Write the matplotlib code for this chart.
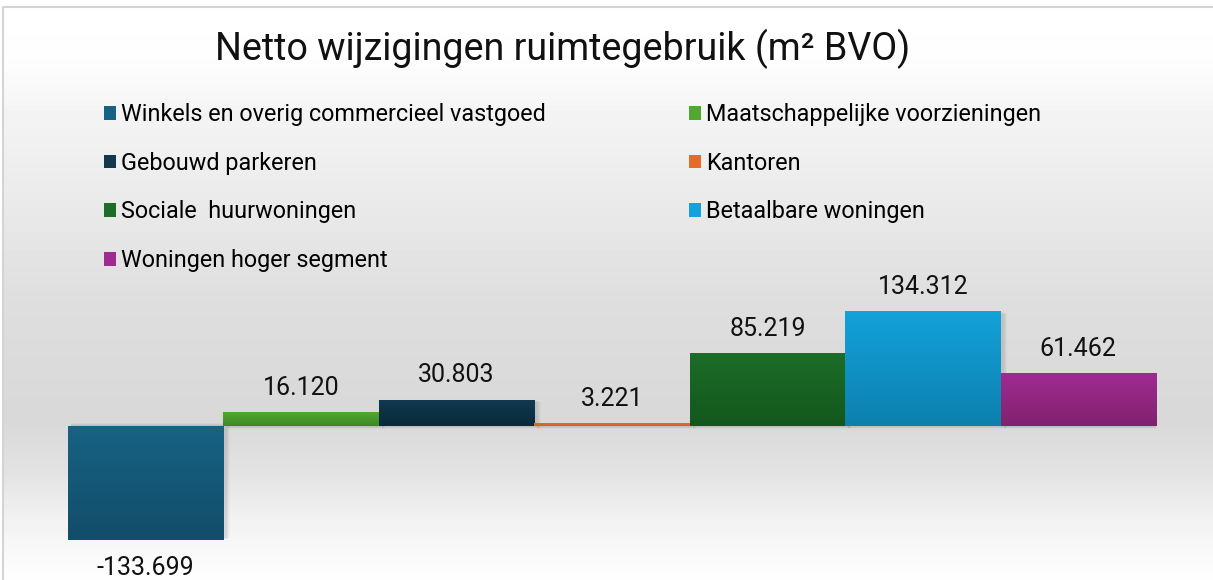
import numpy as np
import matplotlib
matplotlib.use("Agg")
import matplotlib.pyplot as plt
from matplotlib.colors import LinearSegmentedColormap
from matplotlib.lines import Line2D

# data
categories = ["Winkels en overig commercieel vastgoed", "Maatschappelijke voorzieningen",
              "Gebouwd parkeren", "Kantoren", "Sociale  huurwoningen",
              "Betaalbare woningen", "Woningen hoger segment"]
values = [-133699, 16120, 30803, 3221, 85219, 134312, 61462]
top_colors = ["#186283", "#4fa82f", "#10394f", "#e56b2b", "#1c6d28", "#13a2da", "#9f2b91"]
bot_colors = ["#124d6a", "#3f8826", "#0a293b", "#d85f22", "#14571d", "#0d80ae", "#81226f"]
title = "Netto wijzigingen ruimtegebruik (m² BVO)"

W, H = 1213, 580
fig = plt.figure(figsize=(W / 100, H / 100), dpi=100)

# background gradient (pixels from top)
stops_y = [0, 7, 60, 110, 200, 300, 420, 470, 520, 580]
stops_c = [255, 255, 253, 244, 234, 222, 216, 226, 242, 254]
rows = np.interp(np.arange(H), stops_y, stops_c) / 255.0
bg = np.repeat(rows[:, None], W, axis=1)
bg[:, :3] = 1.0
bg[:7, :] = 1.0
bg_ax = fig.add_axes([0, 0, 1, 1])
bg_ax.imshow(bg, cmap="gray", vmin=0, vmax=1, aspect="auto", extent=(0, W, H, 0))
bg_ax.set_xlim(0, W)
bg_ax.set_ylim(H, 0)
bg_ax.axis("off")
bg_ax.add_line(Line2D([3, W], [7, 7], color="#d4d4d4", lw=1.5))
bg_ax.add_line(Line2D([3, 3], [7, H], color="#d4d4d4", lw=1.5))

# main axes: zero line at y=426px, 0.856 px per unit (thousands)
scale = 0.856 / 1000
y_lo, y_hi = -160000, 160000
ax_h = (y_hi - y_lo) * scale
ax_bottom_px = 426 + (-y_lo) * scale
ax = fig.add_axes([68 / W, (H - ax_bottom_px) / H, (1156 - 68) / W, ax_h / H])
ax.patch.set_alpha(0)
ax.axis("off")

handles = []
for i, (cat, v) in enumerate(zip(categories, values)):
    # soft shadow
    for k in range(6):
        ax.bar(i + 0.02 + 0.002 * k, v, width=1.0 + 0.004 * k,
               bottom=-np.sign(v) * (1200 + k * 400),
               color="black", alpha=0.018, zorder=1, linewidth=0)
    b = ax.bar(i, v, width=1.0, color=top_colors[i], label=cat, zorder=3, linewidth=0)
    rect = b.patches[0]
    cmap = LinearSegmentedColormap.from_list("g%d" % i, [bot_colors[i], top_colors[i]])
    grad = np.linspace(0, 1, 100)[:, None]
    lo, hi = min(0, v), max(0, v)
    im = ax.imshow(grad, cmap=cmap, aspect="auto", origin="lower",
                   extent=(i - 0.5, i + 0.5, lo, hi), zorder=4)
    im.set_clip_path(rect)
    label = f"{v:,}".replace(",", ".")
    ax.bar_label(b, [label], padding=9 if v > 0 else 11, fontsize=18,
                 family="Roboto", color="#111111", zorder=5)
    handles.append(b)

ax.set_xlim(-0.5, len(values) - 0.5)
ax.set_ylim(y_lo, y_hi)

fig.text(563 / W, 1 - 49 / H, title, ha="center", va="center", fontsize=27.1,
         family="Roboto", color="#111111")

order = [0, 2, 4, 6, 1, 3, 5]
fig.legend([handles[i] for i in order], [categories[i] for i in order],
           ncol=2, loc="upper left", bbox_to_anchor=(104 / W, 1 - 103 / H),
           frameon=False, prop={"family": "Roboto", "size": 16.85},
           handlelength=0.52, handleheight=0.52, handletextpad=0.22,
           columnspacing=6.1, labelspacing=1.1, borderpad=0, borderaxespad=0)

fig.savefig("out.png", dpi=100)
